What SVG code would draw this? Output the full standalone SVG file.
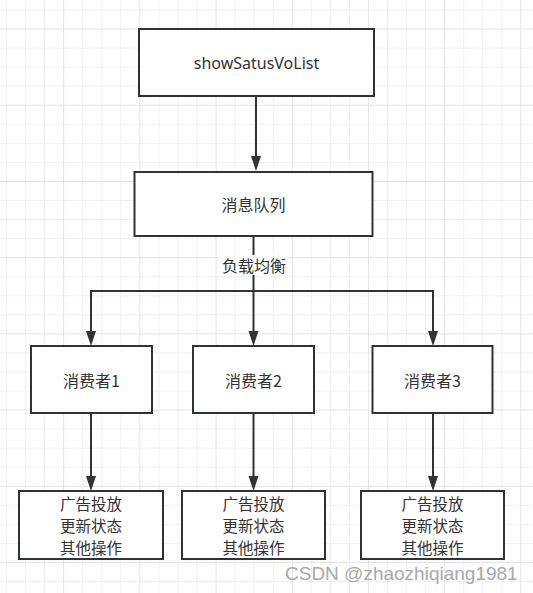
<svg xmlns="http://www.w3.org/2000/svg" width="533" height="593" viewBox="0 0 533 593">
<style>
.minor{stroke:#f0f0f0;stroke-width:1;fill:none}
.major{stroke:#e4e4e4;stroke-width:1;fill:none}
.box{fill:#ffffff;stroke:#2f3336;stroke-width:2}
.lbl{font-family:"Noto Sans","Noto Sans CJK SC",sans-serif;font-size:16px;fill:#333333;text-anchor:middle;dominant-baseline:central}
.cjk{font-family:"Noto Sans CJK SC","Noto Sans",sans-serif;font-size:16px;fill:#333333;text-anchor:middle;dominant-baseline:central}
.ml{font-family:"Noto Sans CJK SC","Noto Sans",sans-serif;font-size:15.5px;fill:#333333;text-anchor:middle;dominant-baseline:central}
.edge{stroke:#333333;stroke-width:2;fill:none}
.wm{font-family:"Liberation Sans",Arial,sans-serif;font-size:19px;fill:#a9a9a9}
</style>
<defs>
<marker id="arr" markerUnits="userSpaceOnUse" markerWidth="16" markerHeight="11" refX="0" refY="5" orient="auto" viewBox="0 0 16 10" overflow="visible">
<path d="M0,0 L15,5 L0,10 Z" fill="#333333"/>
</marker>
</defs>
<rect x="0" y="0" width="533" height="593" fill="#ffffff"/>
<g id="grid">
<path class="minor" d="M6.5 0V593M25.55 0V593M44.6 0V593M82.7 0V593M101.75 0V593M120.8 0V593M158.9 0V593M177.95 0V593M197 0V593M235.1 0V593M254.15 0V593M273.2 0V593M311.3 0V593M330.35 0V593M349.4 0V593M387.5 0V593M406.55 0V593M425.6 0V593M463.7 0V593M482.75 0V593M501.8 0V593"/>
<path class="minor" d="M0 10H533M0 48.1H533M0 67.15H533M0 86.2H533M0 124.3H533M0 143.35H533M0 162.4H533M0 200.5H533M0 219.55H533M0 238.6H533M0 276.7H533M0 295.75H533M0 314.8H533M0 352.9H533M0 371.95H533M0 391H533M0 429.1H533M0 448.15H533M0 467.2H533M0 505.3H533M0 524.35H533M0 543.4H533M0 581.5H533"/>
<path class="major" d="M63.65 0V593M139.85 0V593M216.05 0V593M292.25 0V593M368.45 0V593M444.65 0V593M520.85 0V593"/>
<path class="major" d="M0 29.05H533M0 105.25H533M0 181.45H533M0 257.65H533M0 333.85H533M0 410.05H533M0 486.25H533M0 562.45H533"/>
</g>
<g id="connectors">
<path class="edge" d="M256 97V156" marker-end="url(#arr)"/>
<path class="edge" d="M253.5 237V291"/>
<path class="edge" d="M91 291H433"/>
<path class="edge" d="M91 290V331" marker-end="url(#arr)"/>
<path class="edge" d="M253.5 291V331" marker-end="url(#arr)"/>
<path class="edge" d="M433 290V331" marker-end="url(#arr)"/>
<path class="edge" d="M91 414V476" marker-end="url(#arr)"/>
<path class="edge" d="M253.5 414V476" marker-end="url(#arr)"/>
<path class="edge" d="M433 414V476" marker-end="url(#arr)"/>
<rect x="220" y="255" width="67" height="20" fill="#ffffff"/>
<text class="cjk" x="254" y="265">负载均衡</text>
</g>
<g id="n-show">
<rect class="box" x="139" y="29" width="235" height="67"/>
<text class="lbl" x="256.5" y="62.5">showSatusVoList</text>
</g>
<g id="n-queue">
<rect class="box" x="134.5" y="172" width="238" height="64"/>
<text class="cjk" x="253.5" y="204">消息队列</text>
</g>
<g id="n-c1">
<rect class="box" x="31" y="346" width="121" height="67"/>
<text class="cjk" x="91.5" y="380">消费者1</text>
</g>
<g id="n-c2">
<rect class="box" x="193" y="346" width="121" height="67"/>
<text class="cjk" x="253.5" y="380">消费者2</text>
</g>
<g id="n-c3">
<rect class="box" x="372.5" y="346" width="120" height="67"/>
<text class="cjk" x="432.5" y="380">消费者3</text>
</g>
<g id="n-b1">
<rect class="box" x="19" y="491" width="144" height="68"/>
<text class="ml" x="91" y="503">广告投放</text>
<text class="ml" x="91" y="525">更新状态</text>
<text class="ml" x="91" y="547">其他操作</text>
</g>
<g id="n-b2">
<rect class="box" x="182" y="491" width="143" height="68"/>
<text class="ml" x="253.5" y="503">广告投放</text>
<text class="ml" x="253.5" y="525">更新状态</text>
<text class="ml" x="253.5" y="547">其他操作</text>
</g>
<g id="n-b3">
<rect class="box" x="361" y="491" width="143" height="68"/>
<text class="ml" x="432.5" y="503">广告投放</text>
<text class="ml" x="432.5" y="525">更新状态</text>
<text class="ml" x="432.5" y="547">其他操作</text>
</g>
<text class="wm" x="285" y="580">CSDN @zhaozhiqiang1981</text>
</svg>
